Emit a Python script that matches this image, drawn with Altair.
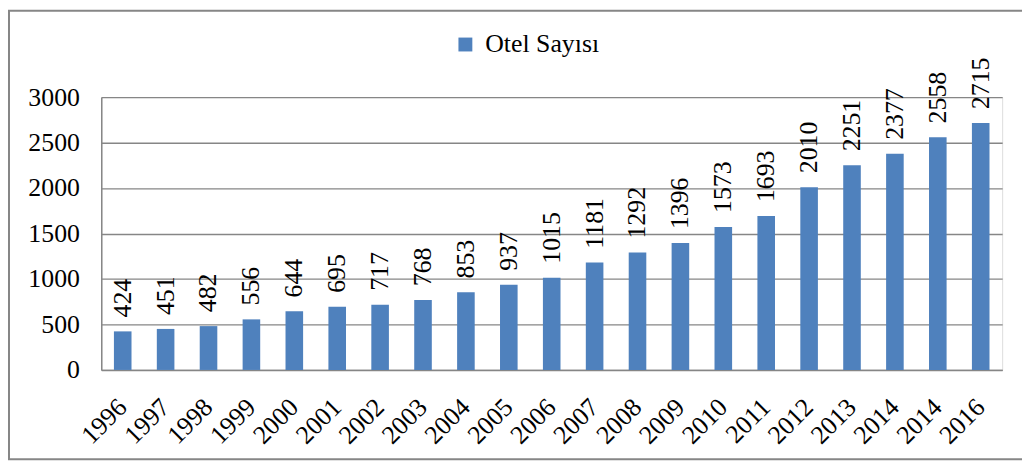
import altair as alt
import pandas as pd

years = ["1996", "1997", "1998", "1999", "2000", "2001", "2002", "2003", "2004",
         "2005", "2006", "2007", "2008", "2009", "2010", "2011", "2012", "2013",
         "2014", "2014", "2016"]
hotels = [424, 451, 482, 556, 644, 695, 717, 768, 853, 937, 1015, 1181, 1292,
          1396, 1573, 1693, 2010, 2251, 2377, 2558, 2715]
series_name = "Otel Sayısı"

df = pd.DataFrame({
    "idx": list(range(len(years))),
    "year": years,
    "value": hotels,
    "series": [series_name] * len(years),
})

FONT = "Liberation Serif, DejaVu Serif, serif"
BLUE = "#4F81BD"
GRAY = "#868686"

label_expr = "[" + ",".join("'" + y + "'" for y in years) + "][datum.value]"

x = alt.X("idx:O", title=None,
          scale=alt.Scale(paddingInner=0.59, paddingOuter=0.295),
          axis=alt.Axis(labelExpr=label_expr, labelAngle=-45, labelAlign="right",
                        labelBaseline="middle", labelPadding=33, ticks=False,
                        domainColor=GRAY, domainWidth=1.5, grid=False,
                        labelFont=FONT, labelFontSize=26, labelColor="black"))
y = alt.Y("value:Q", title=None,
          scale=alt.Scale(domain=[0, 3000], nice=False),
          axis=alt.Axis(values=[0, 500, 1000, 1500, 2000, 2500, 3000], ticks=False,
                        format="d",
                        labelPadding=22, domainColor=GRAY, domainWidth=1.5,
                        gridColor=GRAY, gridWidth=1.3,
                        labelFont=FONT, labelFontSize=26, labelColor="black"))

bars = alt.Chart(df).mark_bar(color=BLUE).encode(
    x=x, y=y,
    color=alt.Color("series:N", scale=alt.Scale(range=[BLUE]),
                    legend=alt.Legend(title=None, orient="none", legendX=354, legendY=-66,
                                      symbolType="square", symbolSize=196,
                                      symbolStrokeWidth=0,
                                      labelFont=FONT, labelFontSize=26,
                                      labelColor="black", labelOffset=7)),
)

labels = alt.Chart(df).mark_text(angle=270, align="left", baseline="middle", dx=14,
                                 font=FONT, fontSize=26, color="black").encode(
    x=alt.X("idx:O"), y=alt.Y("value:Q"), text=alt.Text("value:Q")
)

frame = alt.Chart(pd.DataFrame({"a": [0]})).mark_rect(
    fill=None, stroke=GRAY, strokeWidth=2).encode(
    x=alt.value(-93), x2=alt.value(940), y=alt.value(-87), y2=alt.value(365)
)

chart = alt.layer(frame, bars, labels).properties(
    width=908, height=275,
    autosize=alt.AutoSizeParams(type="none"),
    padding={"left": 94, "top": 88, "right": 20, "bottom": 93},
).configure_view(stroke=None).configure(background="white")

chart.save("out.html", embed_options={"renderer": "svg", "actions": False})
